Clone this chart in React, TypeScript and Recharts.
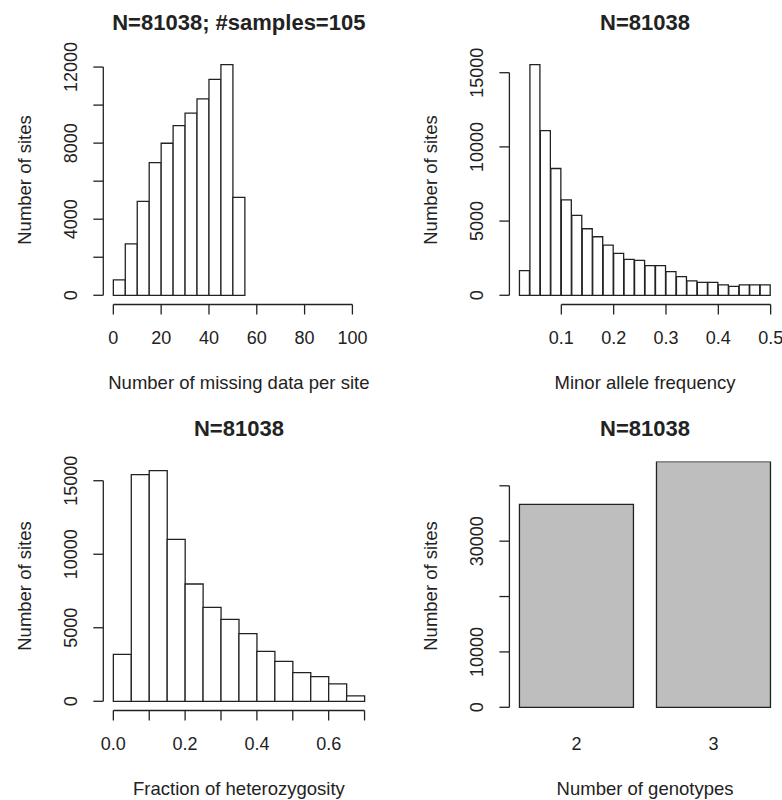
import React from 'react';
import { BarChart, Bar, XAxis, YAxis, ReferenceLine } from 'recharts';

const FONT = '"Liberation Sans", Arial, Helvetica, sans-serif';
const INK = '#222222';

// panel 1: number of missing data per site, bins of 5, xlim = c(0, 105)
const missingBreaks = [0, 5, 10, 15, 20, 25, 30, 35, 40, 45, 50, 55];
const missingCounts = [808, 2706, 4937, 6975, 7994, 8925, 9575, 10331, 11350, 12123, 5148];
const missingXLim = [0, 105];
const missingXTicks = [0, 20, 40, 60, 80, 100];
const missingYTicks = [0, 2000, 4000, 6000, 8000, 10000, 12000];
const missingYLabels = [0, 4000, 8000, 12000];

// panel 2: minor allele frequency, bins of 0.02
const mafBreaks = [0.02, 0.04, 0.06, 0.08, 0.1, 0.12, 0.14, 0.16, 0.18, 0.2, 0.22, 0.24, 0.26,
  0.28, 0.3, 0.32, 0.34, 0.36, 0.38, 0.4, 0.42, 0.44, 0.46, 0.48, 0.5];
const mafCounts = [1659, 15538, 11099, 8543, 6435, 5381, 4484, 3946, 3386, 2825, 2421, 2354,
  1996, 1996, 1592, 1256, 964, 874, 874, 695, 605, 695, 695, 695];
const mafXTicks = [0.1, 0.2, 0.3, 0.4, 0.5];
const mafYTicks = [0, 5000, 10000, 15000];

// panel 3: fraction of heterozygosity, bins of 0.05
const hetBreaks = [0, 0.05, 0.1, 0.15, 0.2, 0.25, 0.3, 0.35, 0.4, 0.45, 0.5, 0.55, 0.6, 0.65, 0.7];
const hetCounts = [3195, 15408, 15680, 11012, 7976, 6390, 5574, 4600, 3399, 2719, 1949, 1677, 1178, 363];
const hetXTicks = [0, 0.1, 0.2, 0.3, 0.4, 0.5, 0.6, 0.7];
const hetXLabels = [0, 0.2, 0.4, 0.6];
const hetYTicks = [0, 5000, 10000, 15000];

// panel 4: number of genotypes (barplot)
const genoNames = ['2', '3'];
const genoCounts = [36650, 44388];
const genoYTicks = [0, 10000, 20000, 30000, 40000];
const genoYLabels = [0, 10000, 30000];

const TOTAL = 81038;
const SAMPLES = 105;

const pad = (lo: number, hi: number): [number, number] => [lo - 0.04 * (hi - lo), hi + 0.04 * (hi - lo)];
const toBins = (breaks: number[], counts: number[]) =>
  counts.map((c, i) => ({ x: (breaks[i] + breaks[i + 1]) / 2, count: c }));

// barplot layout: width 1, space 0.2
const genoData = genoCounts.map((c, i) => ({ x: 0.2 + 1.2 * i + 0.5, count: c, name: genoNames[i] }));

const W = 391;
const H = 400;

type PanelProps = {
  left: number;
  top: number;
  plot: [number, number, number, number]; // x0, y0, x1, y1 within the panel
  data: { x: number; count: number; name?: string }[];
  xDomain: [number, number];
  yDomain: [number, number];
  xTicks: number[];
  xLabel: (v: number) => string;
  xLine?: [number, number];
  yTicks: number[];
  yLabels: number[];
  title: string;
  xTitle: string;
  yTitle: string;
  fill: string;
  gap: number | string;
};

function Panel(p: PanelProps) {
  const [x0, y0, x1, y1] = p.plot;
  const yTop = p.yTicks[p.yTicks.length - 1];
  const cx = (x0 + x1) / 2;
  const cy = (y0 + y1) / 2;
  const hasXLine = !!p.xLine;

  const titles = () => (
    <g fontFamily={FONT} fill={INK}>
      <text x={cx} y={y0 - 25.5} textAnchor="middle" fontSize={22} fontWeight="bold">{p.title}</text>
      <text x={cx} y={y1 + 84} textAnchor="middle" fontSize={18.5}>{p.xTitle}</text>
      <text x={x0 - 72} y={cy} textAnchor="middle" fontSize={18.5} transform={`rotate(-90 ${x0 - 72} ${cy})`}>
        {p.yTitle}
      </text>
    </g>
  );

  return (
    <div style={{ position: 'absolute', left: p.left, top: p.top, width: W, height: H }}>
      <BarChart
        width={W}
        height={H}
        data={p.data}
        margin={{ top: y0, right: W - x1, bottom: 0, left: 0 }}
        barCategoryGap={p.gap}
        barGap={0}
      >
        <XAxis
          type="number"
          dataKey="x"
          domain={p.xDomain}
          allowDataOverflow
          ticks={p.xTicks}
          interval={0}
          height={H - y1}
          axisLine={false}
          tickLine={hasXLine ? { stroke: INK, strokeWidth: 1.3 } : false}
          tickSize={hasXLine ? 10 : 0}
          tickMargin={hasXLine ? 29.5 : 39.5}
          tick={(t: any) => (
            <text x={t.x} y={t.y} textAnchor="middle" fontSize={18} fontFamily={FONT} fill={INK}>
              {p.xLabel(t.payload.value)}
            </text>
          )}
        />
        <YAxis
          type="number"
          domain={p.yDomain}
          allowDataOverflow
          ticks={p.yTicks}
          interval={0}
          width={x0}
          axisLine={false}
          tickLine={{ stroke: INK, strokeWidth: 1.3 }}
          tickSize={10}
          tickMargin={16.4}
          tick={(t: any) =>
            p.yLabels.includes(t.payload.value) ? (
              <text x={t.x} y={t.y} textAnchor="middle" fontSize={18} fontFamily={FONT} fill={INK}
                transform={`rotate(-90 ${t.x} ${t.y})`}>
                {t.payload.value}
              </text>
            ) : (
              <g />
            )
          }
          label={titles}
        />
        <Bar dataKey="count" fill={p.fill} stroke={INK} strokeWidth={1.3} isAnimationActive={false} />
        <ReferenceLine
          segment={[{ x: p.xDomain[0], y: 0 }, { x: p.xDomain[0], y: yTop }]}
          stroke={INK}
          strokeWidth={1.3}
          ifOverflow="visible"
        />
        {p.xLine && (
          <ReferenceLine
            segment={[{ x: p.xLine[0], y: p.yDomain[0] }, { x: p.xLine[1], y: p.yDomain[0] }]}
            stroke={INK}
            strokeWidth={1.3}
            ifOverflow="visible"
          />
        )}
      </BarChart>
    </div>
  );
}

export default function App() {
  const missMax = Math.max(...missingCounts);
  const mafMax = Math.max(...mafCounts);
  const hetMax = Math.max(...hetCounts);
  const genoMax = Math.max(...genoCounts);

  return (
    <div style={{ position: 'absolute', left: 0, top: 0, width: 782, height: 800, background: '#fff' }}>
      <Panel
        left={0}
        top={0}
        plot={[103.3, 55.5, 374.4, 304.5]}
        data={toBins(missingBreaks, missingCounts)}
        xDomain={pad(missingXLim[0], missingXLim[1])}
        yDomain={pad(0, missMax)}
        xTicks={missingXTicks}
        xLabel={(v) => String(v)}
        xLine={[0, 100]}
        yTicks={missingYTicks}
        yLabels={missingYLabels}
        title={`N=${TOTAL}; #samples=${SAMPLES}`}
        xTitle="Number of missing data per site"
        yTitle="Number of sites"
        fill="#ffffff"
        gap={0}
      />
      <Panel
        left={391}
        top={0}
        plot={[118.4, 55.5, 389.7, 304.5]}
        data={toBins(mafBreaks, mafCounts)}
        xDomain={pad(mafBreaks[0], mafBreaks[mafBreaks.length - 1])}
        yDomain={pad(0, mafMax)}
        xTicks={mafXTicks}
        xLabel={(v) => String(v)}
        xLine={[0.1, 0.5]}
        yTicks={mafYTicks}
        yLabels={mafYTicks}
        title={`N=${TOTAL}`}
        xTitle="Minor allele frequency"
        yTitle="Number of sites"
        fill="#ffffff"
        gap={0}
      />
      <Panel
        left={0}
        top={400}
        plot={[103.3, 61.5, 374.6, 310.5]}
        data={toBins(hetBreaks, hetCounts)}
        xDomain={pad(hetBreaks[0], hetBreaks[hetBreaks.length - 1])}
        yDomain={pad(0, hetMax)}
        xTicks={hetXTicks}
        xLabel={(v) => (hetXLabels.includes(v) ? v.toFixed(1) : '')}
        xLine={[0, 0.7]}
        yTicks={hetYTicks}
        yLabels={hetYTicks}
        title={`N=${TOTAL}`}
        xTitle="Fraction of heterozygosity"
        yTitle="Number of sites"
        fill="#ffffff"
        gap={0}
      />
      <Panel
        left={391}
        top={400}
        plot={[118.4, 61.5, 389.7, 310.5]}
        data={genoData}
        xDomain={pad(0.2, 1.2 * genoCounts.length)}
        yDomain={[-0.013 * genoMax, genoMax]}
        xTicks={genoData.map((d) => d.x)}
        xLabel={(v) => genoData.find((d) => d.x === v)?.name ?? ''}
        yTicks={genoYTicks}
        yLabels={genoYLabels}
        title={`N=${TOTAL}`}
        xTitle="Number of genotypes"
        yTitle="Number of sites"
        fill="#bebebe"
        gap="8.333%"
      />
    </div>
  );
}
